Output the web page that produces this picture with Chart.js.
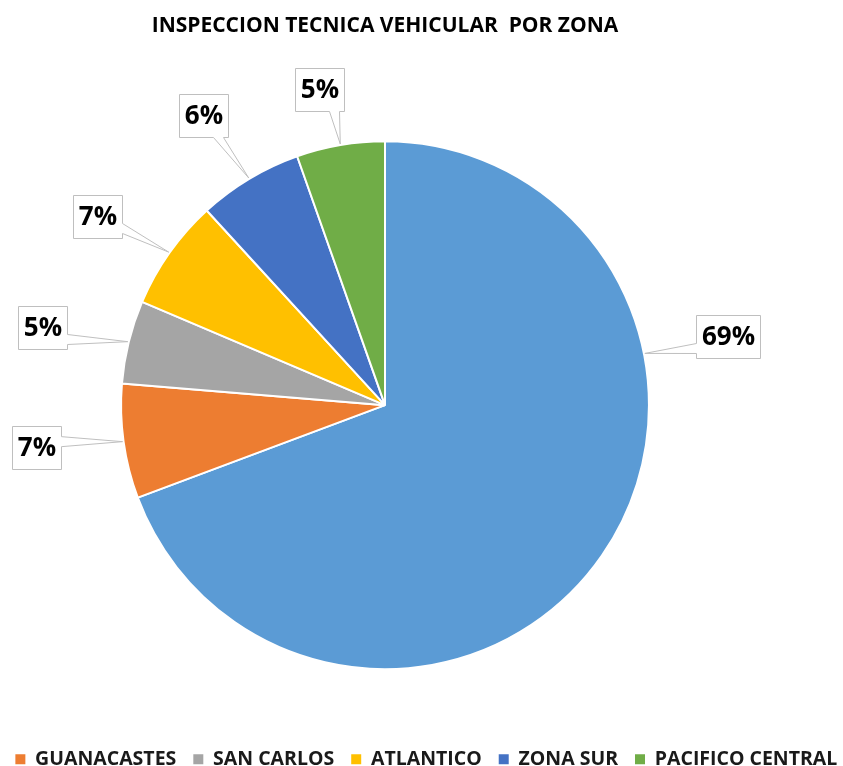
<!DOCTYPE html>
<html lang="es">
<head>
<meta charset="UTF-8">
<title>Inspeccion tecnica vehicular por zona</title>
<style>
  html, body { margin: 0; padding: 0; background: #fff; overflow: hidden; width: 843px; height: 766px; }
  .chart-box { position: absolute; left: -115px; top: 0; width: 1000px; height: 779px; }
</style>
</head>
<body>
<div class="chart-box"><canvas id="pieChart"></canvas></div>

<script src="https://cdn.jsdelivr.net/npm/chart.js"></script>
<script>
  // datos (porcentaje de inspecciones por zona)
  const zonas = ['GAM', 'GUANACASTES', 'SAN CARLOS', 'ATLANTICO', 'ZONA SUR', 'PACIFICO CENTRAL'];
  const porcentajes = [69.3, 7.0, 5.1, 6.8, 6.4, 5.4];
  const colores = ['#5B9BD5', '#ED7D31', '#A5A5A5', '#FFC000', '#4472C4', '#70AD47'];

  // colocacion de las etiquetas (como en Excel): distancia extra y desvio de angulo (grados)
  const distEtiqueta = [86, 87, 87, 80, 78, 58];
  const desvioAngulo = [-46, 1, -1, -2, -1, -2];

  const FONT = '"Open Sans", Lato, sans-serif';

  function calloutPath(ctx, x, y, w, h, px, py, base) {
    const cx = x + w / 2, cy = y + h / 2;
    const dx = px - cx, dy = py - cy;
    let side;
    if (Math.abs(dx) * h > Math.abs(dy) * w) side = dx > 0 ? 'right' : 'left';
    else side = dy > 0 ? 'bottom' : 'top';
    const clamp = (v, a, b) => Math.max(a, Math.min(b, v));
    ctx.beginPath();
    ctx.moveTo(x, y);
    if (side === 'top') {
      const m = clamp(px, x + base, x + w - base);
      ctx.lineTo(m - base / 2, y); ctx.lineTo(px, py); ctx.lineTo(m + base / 2, y);
    }
    ctx.lineTo(x + w, y);
    if (side === 'right') {
      const m = clamp(py, y + base, y + h - base);
      ctx.lineTo(x + w, m - base / 2); ctx.lineTo(px, py); ctx.lineTo(x + w, m + base / 2);
    }
    ctx.lineTo(x + w, y + h);
    if (side === 'bottom') {
      const m = clamp(px, x + base, x + w - base);
      ctx.lineTo(m + base / 2, y + h); ctx.lineTo(px, py); ctx.lineTo(m - base / 2, y + h);
    }
    ctx.lineTo(x, y + h);
    if (side === 'left') {
      const m = clamp(py, y + base, y + h - base);
      ctx.lineTo(x, m + base / 2); ctx.lineTo(px, py); ctx.lineTo(x, m - base / 2);
    }
    ctx.closePath();
  }

  // etiquetas tipo "globo" con el porcentaje
  const calloutLabels = {
    id: 'calloutLabels',
    afterDatasetsDraw(chart) {
      const ctx = chart.ctx;
      const meta = chart.getDatasetMeta(0);
      const data = chart.data.datasets[0].data;
      const total = data.reduce((a, b) => a + b, 0);
      ctx.save();
      ctx.font = 'bold 26px ' + FONT;
      meta.data.forEach((arc, i) => {
        const p = arc.getProps(['x', 'y', 'startAngle', 'endAngle', 'outerRadius'], true);
        const mid = (p.startAngle + p.endAngle) / 2;
        const ang = mid + desvioAngulo[i] * Math.PI / 180;
        const lider = Math.abs(desvioAngulo[i]) > 10 ? ang : mid;
        const txt = Math.round(data[i] / total * 100) + '%';
        const tw = ctx.measureText(txt).width;
        const w = Math.round(tw + 11), h = 43;
        const d = p.outerRadius + distEtiqueta[i];
        const bx = Math.round(p.x + Math.cos(ang) * d - w / 2) + 0.5;
        const by = Math.round(p.y + Math.sin(ang) * d - h / 2) + 0.5;
        const px = p.x + Math.cos(lider) * (p.outerRadius + 1);
        const py = p.y + Math.sin(lider) * (p.outerRadius + 1);
        calloutPath(ctx, bx, by, w, h, px, py, 10);
        ctx.fillStyle = '#fff';
        ctx.fill();
        ctx.strokeStyle = '#BFBFBF';
        ctx.lineWidth = 1;
        ctx.stroke();
        ctx.fillStyle = '#000';
        ctx.textAlign = 'center';
        ctx.textBaseline = 'middle';
        ctx.fillText(txt, bx + w / 2, by + h / 2 + 1);
      });
      ctx.restore();
    }
  };

  const ctx = document.getElementById('pieChart').getContext('2d');
  new Chart(ctx, {
    type: 'pie',
    data: {
      labels: zonas,
      datasets: [{
        data: porcentajes,
        backgroundColor: colores,
        borderColor: '#fff',
        borderWidth: 2
      }]
    },
    options: {
      responsive: true,
      maintainAspectRatio: false,
      animation: false,
      events: [],
      layout: { padding: 0 },
      plugins: {
        title: {
          display: true,
          text: 'INSPECCION TECNICA VEHICULAR  POR ZONA',
          color: '#000',
          font: { family: FONT, size: 21, weight: 'bold' },
          padding: { top: 13, bottom: 102 }
        },
        legend: {
          position: 'bottom',
          title: { display: true, text: ' ', font: { size: 12 }, padding: { top: 48, bottom: 0 } },
          labels: {
            color: '#1a1a1a',
            boxWidth: 10,
            boxHeight: 10,
            padding: 17,
            font: { family: FONT, size: 19.5, weight: 'bold' },
            generateLabels(chart) {
              const items = Chart.controllers.pie.overrides.plugins.legend.labels.generateLabels(chart);
              items.forEach(it => { it.lineWidth = 0; });
              return items;
            }
          }
        },
        tooltip: { enabled: false }
      }
    },
    plugins: [calloutLabels]
  });
</script>
</body>
</html>
